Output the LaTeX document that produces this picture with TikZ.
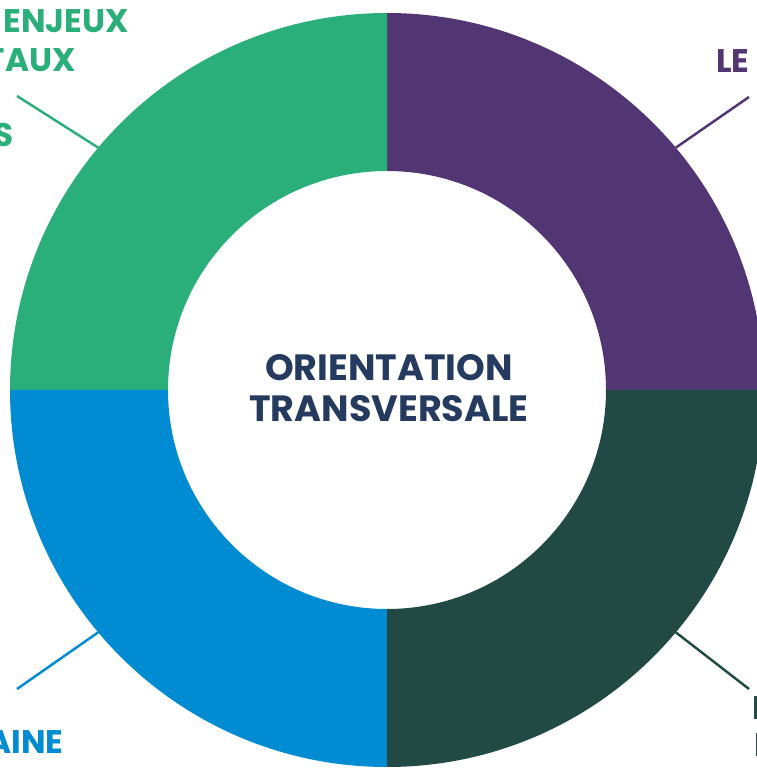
\documentclass[tikz,border=0pt]{standalone}
\usepackage{fontspec}
\setmainfont{Poppins}
\usetikzlibrary{positioning}
\definecolor{quadgreen}{HTML}{2AAE7A}
\definecolor{quadpurple}{HTML}{523573}
\definecolor{quaddark}{HTML}{214A44}
\definecolor{quadblue}{HTML}{008BD2}
\definecolor{titlenavy}{HTML}{243A5E}
\newcommand{\outerR}{377}
\newcommand{\innerR}{219}

\begin{document}
\begin{tikzpicture}[x=0.02cm,y=0.02cm,
                    label text/.style={font=\bfseries\fontsize{18.6}{21}\selectfont,inner sep=0pt,anchor=base east},
                    title text/.style={font=\bfseries\fontsize{20.8}{23.3}\selectfont,align=center,text=titlenavy},
                    leader/.style={line width=1.4pt}]
  \useasboundingbox (0,0) rectangle (757,768);
  \coordinate (c) at (387,378);

  % four quarters of the ring
  \foreach \a/\col in {0/quadpurple,90/quadgreen,180/quadblue,270/quaddark}
    \fill[\col] ([shift={(\a:\outerR)}]c) arc[start angle=\a,delta angle=90,radius=\outerR]
      -- ([shift={(\a+90:\innerR)}]c) arc[start angle=\a+90,delta angle=-90,radius=\innerR] -- cycle;

  \node[circle,minimum size=15.08cm,inner sep=0pt,outer sep=0pt] (ring) at (c) {};
  \node[title text] (title) at (389,380) {ORIENTATION\\TRANSVERSALE};

  \node[label text,text=quadgreen] (enjeux) at (129,735) {ENJEUX};
  \node[label text,text=quadgreen] (taux) at (76,696) {TAUX};
  \node[label text,text=quadgreen] (sgreen) at (14,621) {S};
  \node[label text,text=quadpurple] (le) at (750,695) {LE};
  \node[label text,text=quadblue] (aine) at (64,14) {AINE};
  \node[label text,text=quaddark,anchor=base west] (darktop) at (752,49) {I};
  \node[label text,text=quaddark,anchor=base west] (darkbot) at (754,11) {I};

  \coordinate (greenend) at (17,672);
  \coordinate (purpleend) at (749,671);
  \coordinate (darkend) at (749,79);
  \coordinate (blueend) at (17,79);

  \draw[leader,quadgreen] (ring.140) -- (greenend);
  \draw[leader,quadpurple] (ring.40) -- (purpleend);
  \draw[leader,quaddark] (ring.-40) -- (darkend);
  \draw[leader,quadblue] (ring.220) -- (blueend);
\end{tikzpicture}
\end{document}
